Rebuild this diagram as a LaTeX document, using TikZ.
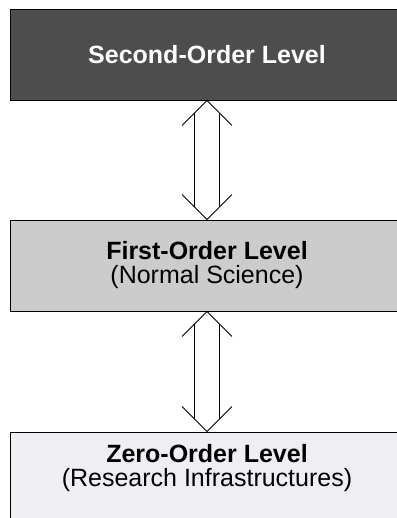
\documentclass[tikz,border=0pt]{standalone}
\usepackage{fontspec}
\setmainfont{Liberation Sans}
\usetikzlibrary{calc}
\definecolor{darkfill}{HTML}{4D4D4D}
\definecolor{midfill}{HTML}{CCCCCC}
\definecolor{lightfill}{HTML}{EFEFF3}
\begin{document}
\begin{tikzpicture}[x=1pt,y=1pt,
  level/.style={draw=black, line width=0.9pt, minimum width=394pt, minimum height=91pt,
    inner sep=0pt, align=center, font=\fontsize{25}{24}\selectfont},
  arr/.style={draw=black, line width=0.9pt, line join=miter}]
\useasboundingbox (0,0) rectangle (396,518);
\node[level, fill=darkfill, text=white] (top) at (207,463.5) {\bfseries Second-Order Level};
\node[level, fill=midfill] (mid) at (207,252.5) {\textbf{First-Order Level}\\(Normal Science)};
\node[level, fill=lightfill] (bot) at (207,40.5) {};
\node[align=center, inner sep=0pt, font=\fontsize{25}{24}\selectfont] (bottxt) at ($(bot.north)+(0,-36)$)
  {\textbf{Zero-Order Level}\\(Research Infrastructures)};
\foreach \a/\b in {top/mid, mid/bot}{
  \draw[arr] ($(\a.south)+(-25,-25)$) -- (\a.south) -- ($(\a.south)+(25,-25)$);
  \draw[arr] ($(\b.north)+(-25,25)$) -- (\b.north) -- ($(\b.north)+(25,25)$);
  \draw[arr] ($(\a.south)+(-12.3,-12.3)$) -- ($(\b.north)+(-12.3,12.3)$);
  \draw[arr] ($(\a.south)+(12.3,-12.3)$) -- ($(\b.north)+(12.3,12.3)$);
}
\end{tikzpicture}
\end{document}
